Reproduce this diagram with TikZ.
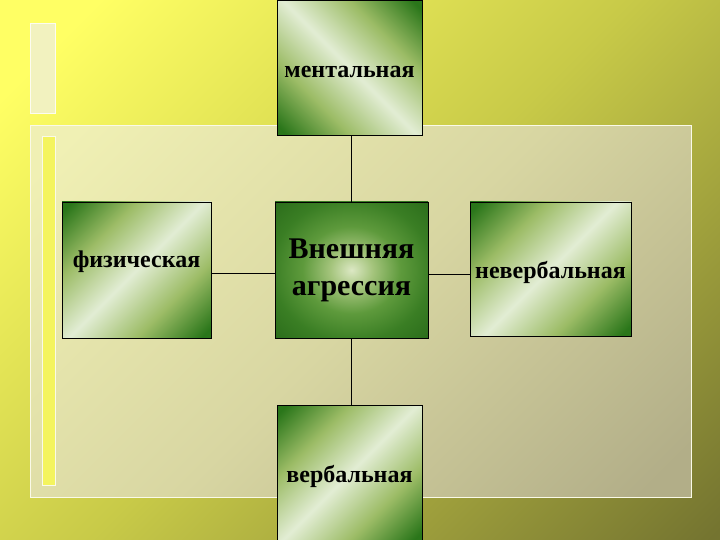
\documentclass[tikz,border=0pt]{standalone}
\usepackage{fontspec}
\setmainfont{Liberation Serif}
\definecolor{gdark}{HTML}{2A761A}
\definecolor{gmid}{HTML}{9CBC66}
\definecolor{glight}{HTML}{E2EDD4}
\definecolor{cdark}{HTML}{2A6C1A}
\definecolor{cedge}{HTML}{3A7E24}
\definecolor{cmid}{HTML}{5E9A3C}
\definecolor{cpale}{HTML}{A4C47C}
\definecolor{clight}{HTML}{DCE8C4}
\definecolor{bgA}{HTML}{FFFF64}
\definecolor{bgM}{HTML}{C8CA48}
\definecolor{bgB}{HTML}{747430}
\definecolor{pnA}{HTML}{F0F0B4}
\definecolor{pnM}{HTML}{D8D6A2}
\definecolor{pnB}{HTML}{B2AE88}
\pgfdeclarehorizontalshading{gdiag}{100bp}{color(0bp)=(gdark); color(17bp)=(gdark); color(33bp)=(gmid); color(50bp)=(glight); color(67bp)=(gmid); color(83bp)=(gdark); color(100bp)=(gdark)}
\pgfdeclareradialshading{cglow}{\pgfpoint{0bp}{0bp}}{color(0bp)=(clight); color(7bp)=(cpale); color(16bp)=(cmid); color(26bp)=(cedge); color(36bp)=(cdark); color(50bp)=(cdark)}
\pgfdeclarehorizontalshading{bgsh}{100bp}{color(0bp)=(bgA); color(20bp)=(bgA); color(50bp)=(bgM); color(85bp)=(bgB); color(100bp)=(bgB)}
\pgfdeclarehorizontalshading{pnsh}{100bp}{color(0bp)=(pnA); color(18bp)=(pnA); color(50bp)=(pnM); color(82bp)=(pnB); color(100bp)=(pnB)}
\begin{document}
\begin{tikzpicture}[x=1pt,y=-1pt,
  gbox/.style={draw=black, line width=0.8pt, inner sep=0pt, shading=gdiag},
  gboxA/.style={gbox, shading angle=-45},
  gboxB/.style={gbox, shading angle=45},
  cbox/.style={draw=black, line width=0.8pt, inner sep=0pt, shading=cglow},
  lbl/.style={inner sep=0pt, font=\bfseries\fontsize{24}{28}\selectfont},
  clbl/.style={inner sep=0pt, align=center, font=\bfseries\fontsize{30}{37}\selectfont},
  conn/.style={draw=black, line width=0.8pt}]
\useasboundingbox (0,0) rectangle (720,540);
% background
\shade[shading=bgsh, shading angle=-45] (0,0) rectangle (720,540);
% panel
\shade[shading=pnsh, shading angle=-45] (30,126) rectangle (691,497);
\draw[color=white!70!pnA, line width=1pt] (30,126) rectangle (691,497);
% small decorative bars
\fill[color=pnA!85!white] (30,24) rectangle (55,114);
\draw[color=white!80!pnA, line width=1pt] (30,24) rectangle (55,114);
\fill[color=bgA!80!bgM] (42,137) rectangle (55,485);
\draw[color=white!70!pnA, line width=1pt] (42,137) rectangle (55,485);
% boxes
\node[gboxB, minimum width=145pt, minimum height=135pt] (ment) at (349.5,67.5) {};
\node[cbox, minimum width=153pt, minimum height=136pt] (core) at (351.5,270) {};
\node[gboxA, minimum width=149pt, minimum height=136pt] (fiz) at (136.5,270) {};
\node[gboxA, minimum width=161pt, minimum height=134pt] (nev) at (550.5,269) {};
\node[gboxA, minimum width=145pt, minimum height=137pt] (verb) at (349.5,473.5) {};
% labels
\node[lbl] (mentT) at (ment.center |- 0,72) {ментальная};
\node[clbl] (coreT) at (351.5,270) {Внешняя\\агрессия};
\node[lbl] (fizT) at (fiz.center |- 0,262) {физическая};
\node[lbl] (nevT) at (nev.center |- 0,272) {невербальная};
\node[lbl] (verbT) at (verb.center |- 0,476) {вербальная};
% connectors
\draw[conn] (ment.south -| core.north) -- (core.north);
\draw[conn] (core.south) -- (core.south |- verb.north);
\draw[conn] (fiz.east |- 0,273) -- (core.west |- 0,273);
\draw[conn] (core.east |- 0,274) -- (nev.west |- 0,274);
\end{tikzpicture}
\end{document}
